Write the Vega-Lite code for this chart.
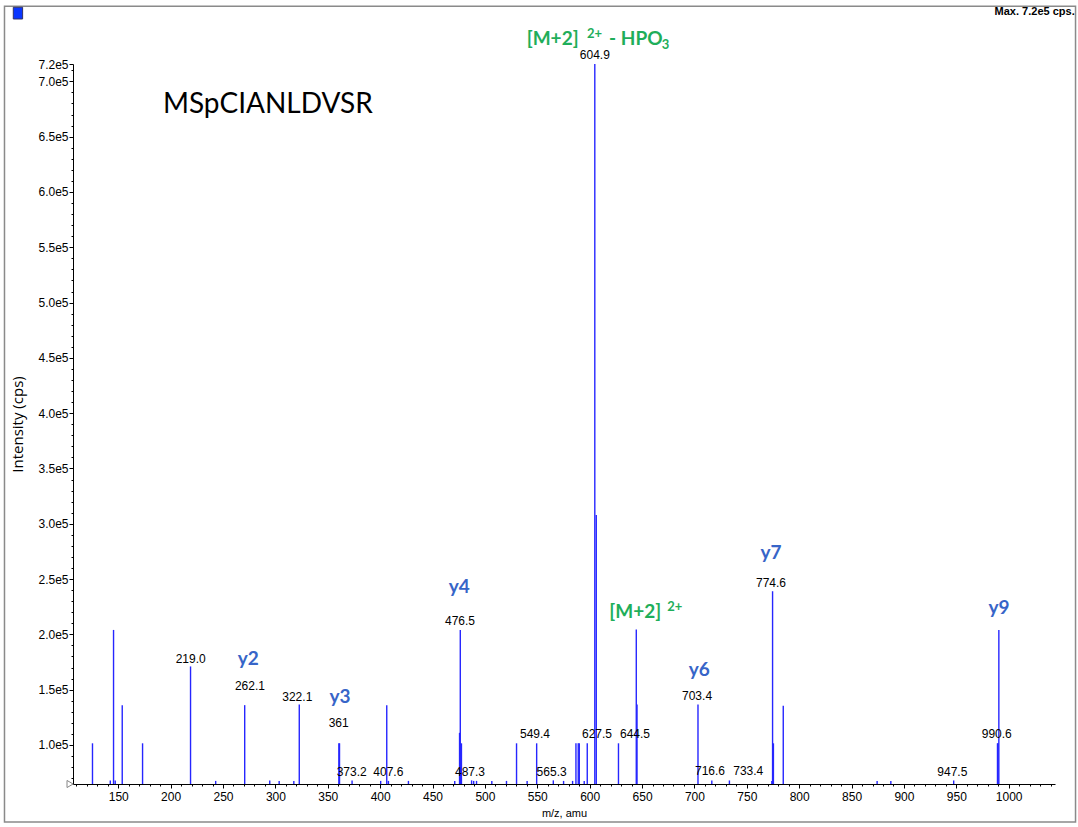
{
  "$schema": "https://vega.github.io/schema/vega-lite/v6.json",
  "width": 982,
  "height": 720,
  "autosize": "none",
  "padding": {"left": 73, "top": 64, "right": 23, "bottom": 43},
  "background": "white",
  "config": {
    "view": {"stroke": null},
    "axis": {"domainColor": "black", "tickColor": "black", "labelColor": "black", "titleColor": "black", "grid": false, "labelOverlap": false}
  },
  "datasets": {
    "peaks": [
      {"mz": 125.4, "intensity": 101500}, {"mz": 142.4, "intensity": 67900}, {"mz": 145.5, "intensity": 204000},
      {"mz": 147.1, "intensity": 67900}, {"mz": 153.8, "intensity": 136000}, {"mz": 173.2, "intensity": 101500},
      {"mz": 219.0, "intensity": 171000}, {"mz": 243.0, "intensity": 67500}, {"mz": 270.7, "intensity": 136000},
      {"mz": 294.6, "intensity": 67900}, {"mz": 303.6, "intensity": 67500}, {"mz": 317.6, "intensity": 67500},
      {"mz": 322.8, "intensity": 136500}, {"mz": 360.6, "intensity": 101500}, {"mz": 361.2, "intensity": 101500},
      {"mz": 373.2, "intensity": 67900}, {"mz": 400.5, "intensity": 67500}, {"mz": 406.3, "intensity": 136000},
      {"mz": 407.9, "intensity": 67500}, {"mz": 427.0, "intensity": 67500}, {"mz": 471.2, "intensity": 67500},
      {"mz": 475.8, "intensity": 111000}, {"mz": 476.5, "intensity": 204000}, {"mz": 477.6, "intensity": 101500},
      {"mz": 487.3, "intensity": 68000}, {"mz": 489.3, "intensity": 67500}, {"mz": 492.0, "intensity": 67500},
      {"mz": 506.6, "intensity": 67500}, {"mz": 520.6, "intensity": 67500}, {"mz": 530.2, "intensity": 101500},
      {"mz": 540.3, "intensity": 67500}, {"mz": 549.4, "intensity": 101500}, {"mz": 565.3, "intensity": 68000},
      {"mz": 575.1, "intensity": 67500}, {"mz": 583.7, "intensity": 67500}, {"mz": 586.9, "intensity": 101500},
      {"mz": 589.1, "intensity": 101500}, {"mz": 590.1, "intensity": 101500}, {"mz": 594.8, "intensity": 67500},
      {"mz": 597.7, "intensity": 101500}, {"mz": 604.9, "intensity": 715700}, {"mz": 606.3, "intensity": 308000},
      {"mz": 627.5, "intensity": 101500}, {"mz": 644.5, "intensity": 204500}, {"mz": 645.2, "intensity": 136500},
      {"mz": 703.4, "intensity": 136500}, {"mz": 716.6, "intensity": 67900}, {"mz": 733.4, "intensity": 67900},
      {"mz": 773.9, "intensity": 67500}, {"mz": 774.6, "intensity": 239000}, {"mz": 774.9, "intensity": 89400},
      {"mz": 775.4, "intensity": 101500}, {"mz": 784.8, "intensity": 135500}, {"mz": 874.4, "intensity": 67500},
      {"mz": 887.5, "intensity": 67500}, {"mz": 947.5, "intensity": 67900}, {"mz": 989.3, "intensity": 101500},
      {"mz": 989.8, "intensity": 101500}, {"mz": 990.6, "intensity": 204000}
    ],
    "labels": [
      {"mz": 604.9, "intensity": 724000, "text": "604.9", "kind": "value"},
      {"mz": 219.1, "intensity": 178000, "text": "219.0", "kind": "value"},
      {"mz": 275.7, "intensity": 153600, "text": "262.1", "kind": "value"},
      {"mz": 320.9, "intensity": 143700, "text": "322.1", "kind": "value"},
      {"mz": 360.4, "intensity": 119600, "text": "361", "kind": "value"},
      {"mz": 372.8, "intensity": 75900, "text": "373.2", "kind": "value"},
      {"mz": 407.8, "intensity": 75900, "text": "407.6", "kind": "value"},
      {"mz": 476.2, "intensity": 212000, "text": "476.5", "kind": "value"},
      {"mz": 485.8, "intensity": 75900, "text": "487.3", "kind": "value"},
      {"mz": 547.8, "intensity": 110000, "text": "549.4", "kind": "value"},
      {"mz": 563.7, "intensity": 75900, "text": "565.3", "kind": "value"},
      {"mz": 607.0, "intensity": 110000, "text": "627.5", "kind": "value"},
      {"mz": 643.3, "intensity": 110000, "text": "644.5", "kind": "value"},
      {"mz": 702.5, "intensity": 144300, "text": "703.4", "kind": "value"},
      {"mz": 714.9, "intensity": 76500, "text": "716.6", "kind": "value"},
      {"mz": 751.4, "intensity": 76500, "text": "733.4", "kind": "value"},
      {"mz": 773.1, "intensity": 246000, "text": "774.6", "kind": "value"},
      {"mz": 946.2, "intensity": 75900, "text": "947.5", "kind": "value"},
      {"mz": 988.6, "intensity": 110000, "text": "990.6", "kind": "value"},
      {"mz": 274.1, "intensity": 177800, "text": "y2", "kind": "ion"},
      {"mz": 361.6, "intensity": 143700, "text": "y3", "kind": "ion"},
      {"mz": 475.5, "intensity": 243000, "text": "y4", "kind": "ion"},
      {"mz": 704.7, "intensity": 167800, "text": "y6", "kind": "ion"},
      {"mz": 773.2, "intensity": 273600, "text": "y7", "kind": "ion"},
      {"mz": 990.8, "intensity": 224000, "text": "y9", "kind": "ion"},
      {"mz": 539.9, "intensity": 737900, "text": "[M+2]", "kind": "green"},
      {"mz": 618.5, "intensity": 737900, "text": "- HPO", "kind": "green"},
      {"mz": 597.4, "intensity": 742900, "text": "2+", "kind": "greensup"},
      {"mz": 668.8, "intensity": 733000, "text": "3", "kind": "greensup"},
      {"mz": 618.7, "intensity": 220000, "text": "[M+2]", "kind": "green"},
      {"mz": 674.1, "intensity": 224300, "text": "2+", "kind": "greensup"},
      {"mz": 192.7, "intensity": 678700, "text": "MSpCIANLDVSR", "kind": "sequence"}
    ]
  },
  "layer": [
    {
      "data": {"values": [{}]},
      "mark": {"type": "rect", "fill": "transparent", "stroke": "#8a8a8a", "strokeWidth": 1.5, "clip": false},
      "encoding": {
        "x": {"datum": 41.4, "type": "quantitative"},
        "x2": {"datum": 1063.8},
        "y": {"datum": 768000, "type": "quantitative"},
        "y2": {"datum": 30400}
      }
    },
    {
      "data": {"values": [{}]},
      "mark": {"type": "rect", "fill": "#0a36ff", "stroke": "#333366", "strokeWidth": 1, "clip": false},
      "encoding": {
        "x": {"datum": 49.8, "type": "quantitative"},
        "x2": {"datum": 58.7},
        "y": {"datum": 767000, "type": "quantitative"},
        "y2": {"datum": 756400}
      }
    },
    {
      "data": {"name": "peaks"},
      "mark": {"type": "rule", "color": "#2626ff", "strokeWidth": 1.4},
      "encoding": {
        "x": {
          "field": "mz", "type": "quantitative",
          "scale": {"domain": [106.8, 1044.2], "nice": false, "zero": false},
          "axis": {
            "title": "m/z, amu", "titleFont": "Liberation Sans", "titleFontSize": 11, "titleFontWeight": "normal", "titlePadding": 5,
            "tickCount": 1000, "format": "d",
            "values": [110,120,130,140,150,160,170,180,190,200,210,220,230,240,250,260,270,280,290,300,310,320,330,340,350,360,370,380,390,400,410,420,430,440,450,460,470,480,490,500,510,520,530,540,550,560,570,580,590,600,610,620,630,640,650,660,670,680,690,700,710,720,730,740,750,760,770,780,790,800,810,820,830,840,850,860,870,880,890,900,910,920,930,940,950,960,970,980,990,1000,1010,1020,1030,1040],
            "labelExpr": "datum.value % 50 == 0 ? datum.label : ''",
            "labelFont": "Liberation Sans", "labelFontSize": 12, "labelPadding": 3, "labelOverlap": false, "labelBound": false, "labelFlush": false,
            "tickSize": {"condition": {"test": "datum.value % 50 != 0", "value": 2}, "value": 4},
            "tickWidth": 1, "domainWidth": 1
          }
        },
        "y": {
          "field": "intensity", "type": "quantitative",
          "scale": {"domain": [64700, 715700], "nice": false, "zero": false},
          "axis": {
            "title": "Intensity (cps)", "titleFont": "Open Sans", "titleFontSize": 15, "titleFontWeight": "normal", "titlePadding": 12,
            "tickCount": 1000,
            "values": [70000,80000,90000,100000,110000,120000,130000,140000,150000,160000,170000,180000,190000,200000,210000,220000,230000,240000,250000,260000,270000,280000,290000,300000,310000,320000,330000,340000,350000,360000,370000,380000,390000,400000,410000,420000,430000,440000,450000,460000,470000,480000,490000,500000,510000,520000,530000,540000,550000,560000,570000,580000,590000,600000,610000,620000,630000,640000,650000,660000,670000,680000,690000,700000,710000,715700],
            "labelExpr": "(datum.value % 50000 == 0 || datum.value > 712000) ? replace(format(datum.value, '.1e'), '+', '') : ''",
            "labelFont": "Liberation Sans", "labelFontSize": 12, "labelPadding": 1, "labelOverlap": false, "labelBound": false, "labelFlush": false,
            "tickSize": {"condition": {"test": "datum.value % 50000 != 0 && datum.value < 712000", "value": 2}, "value": 4},
            "tickWidth": 1, "domainWidth": 1
          }
        },
        "y2": {"datum": 64700}
      }
    },
    {
      "data": {"name": "labels"},
      "transform": [{"filter": "datum.kind == 'value'"}],
      "mark": {"type": "text", "font": "Liberation Sans", "fontSize": 12, "color": "black", "align": "center", "baseline": "middle", "clip": false},
      "encoding": {
        "x": {"field": "mz", "type": "quantitative"},
        "y": {"field": "intensity", "type": "quantitative"},
        "text": {"field": "text"}
      }
    },
    {
      "data": {"name": "labels"},
      "transform": [{"filter": "datum.kind == 'ion'"}],
      "mark": {"type": "text", "font": "Lato", "fontSize": 19, "fontWeight": "bold", "color": "#3765c8", "align": "center", "baseline": "middle", "clip": false},
      "encoding": {
        "x": {"field": "mz", "type": "quantitative"},
        "y": {"field": "intensity", "type": "quantitative"},
        "text": {"field": "text"}
      }
    },
    {
      "data": {"name": "labels"},
      "transform": [{"filter": "datum.kind == 'green'"}],
      "mark": {"type": "text", "font": "Lato", "fontSize": 19, "fontWeight": "bold", "color": "#1fae5a", "align": "left", "baseline": "middle", "clip": false},
      "encoding": {
        "x": {"field": "mz", "type": "quantitative"},
        "y": {"field": "intensity", "type": "quantitative"},
        "text": {"field": "text"}
      }
    },
    {
      "data": {"name": "labels"},
      "transform": [{"filter": "datum.kind == 'greensup'"}],
      "mark": {"type": "text", "font": "Lato", "fontSize": 13, "fontWeight": "bold", "color": "#1fae5a", "align": "left", "baseline": "middle", "clip": false},
      "encoding": {
        "x": {"field": "mz", "type": "quantitative"},
        "y": {"field": "intensity", "type": "quantitative"},
        "text": {"field": "text"}
      }
    },
    {
      "data": {"name": "labels"},
      "transform": [{"filter": "datum.kind == 'sequence'"}],
      "mark": {"type": "text", "font": "Lato", "fontSize": 28, "color": "black", "align": "left", "baseline": "middle", "clip": false},
      "encoding": {
        "x": {"field": "mz", "type": "quantitative"},
        "y": {"field": "intensity", "type": "quantitative"},
        "text": {"field": "text"}
      }
    },
    {
      "data": {"values": [{}]},
      "mark": {"type": "text", "text": "Max. 7.2e5 cps.", "font": "Liberation Sans", "fontSize": 11, "fontWeight": "bold", "color": "black", "align": "right", "baseline": "middle", "clip": false},
      "encoding": {
        "x": {"datum": 1063.0, "type": "quantitative"},
        "y": {"datum": 762700, "type": "quantitative"}
      }
    },
    {
      "data": {"values": [{}]},
      "mark": {"type": "point", "shape": "triangle-right", "filled": false, "color": "#555555", "size": 50, "strokeWidth": 1, "clip": false},
      "encoding": {
        "x": {"datum": 104.0, "type": "quantitative"},
        "y": {"datum": 64700, "type": "quantitative"}
      }
    }
  ]
}
